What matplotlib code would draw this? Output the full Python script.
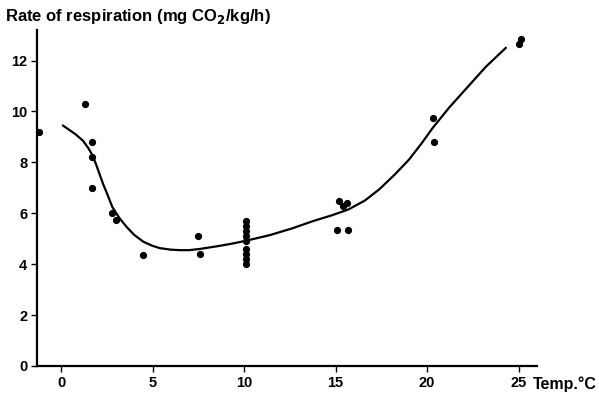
import matplotlib
matplotlib.use("Agg")
import matplotlib.pyplot as plt

# observed data points
temp = [-1.2, 1.3, 1.7, 1.7, 1.7, 2.8, 3.0, 4.5, 7.5, 7.6,
        10.1, 10.1, 10.1, 10.1, 10.1, 10.1, 10.1, 10.1, 10.1,
        15.2, 15.4, 15.6, 15.1, 15.7, 20.3, 20.4, 25.0, 25.1]
rate = [9.2, 10.3, 8.8, 8.2, 7.0, 6.0, 5.75, 4.35, 5.1, 4.4,
        5.7, 5.5, 5.3, 5.1, 4.9, 4.6, 4.4, 4.2, 4.0,
        6.5, 6.3, 6.4, 5.33, 5.33, 9.75, 8.8, 12.65, 12.85]

# fitted curve
curve_t = [0.1, 0.4, 0.8, 1.2, 1.5, 1.7, 1.9, 2.1, 2.3, 2.5, 2.8, 3.2, 3.6, 4.0,
           4.5, 5.0, 5.4, 6.0, 6.5, 7.0, 7.6, 8.5, 9.3, 10.1, 11.4, 12.6, 13.8,
           14.8, 15.7, 16.6, 17.4, 18.2, 19.0, 19.7, 20.3, 21.2, 22.2, 23.2, 24.3]
curve_r = [9.45, 9.3, 9.1, 8.85, 8.55, 8.3, 7.95, 7.55, 7.15, 6.8, 6.25, 5.8,
           5.45, 5.15, 4.88, 4.72, 4.63, 4.57, 4.55, 4.55, 4.6, 4.7, 4.8, 4.92,
           5.14, 5.4, 5.7, 5.92, 6.15, 6.5, 6.95, 7.5, 8.1, 8.75, 9.35, 10.15,
           10.95, 11.75, 12.5]

xticks = [0, 5, 10, 15, 20, 25]
yticks = [0, 2, 4, 6, 8, 10, 12]

fig = plt.figure(figsize=(5.99, 3.94), dpi=100)
ax = fig.add_axes([0.0618, 0.0711, 0.8347, 0.8528])

ax.plot(curve_t, curve_r, color="black", lw=1.6, solid_capstyle="round",
        solid_joinstyle="round")
ax.plot(temp, rate, "o", color="black", ms=4.2, clip_on=False)

ax.set_xlim(-1.31, 26.0)
ax.set_ylim(0, 13.2)
ax.set_xticks(xticks)
ax.set_yticks(yticks)
ax.set_xticklabels([str(v) for v in xticks], fontweight="bold", fontsize=10.5,
                   family="Liberation Sans")
ax.set_yticklabels([str(v) for v in yticks], fontweight="bold", fontsize=10.5,
                   family="Liberation Sans")
ax.tick_params(axis="both", direction="out", length=4, width=1, color="black", pad=3)
for s in ["top", "right"]:
    ax.spines[s].set_visible(False)
for s in ["left", "bottom"]:
    ax.spines[s].set_linewidth(1.6)

fig.text(533 / 599, 1 - 384 / 394, "Temp.°C", ha="left", va="center",
         fontweight="bold", fontsize=11.5, family="Liberation Sans")
fig.text(5 / 599, 1 - 16 / 394, "Rate of respiration (mg CO$_\\mathbf{2}$/kg/h)",
         ha="left", va="center", fontweight="bold", fontsize=12,
         family="Liberation Sans")

fig.savefig("out.png", dpi=100)
